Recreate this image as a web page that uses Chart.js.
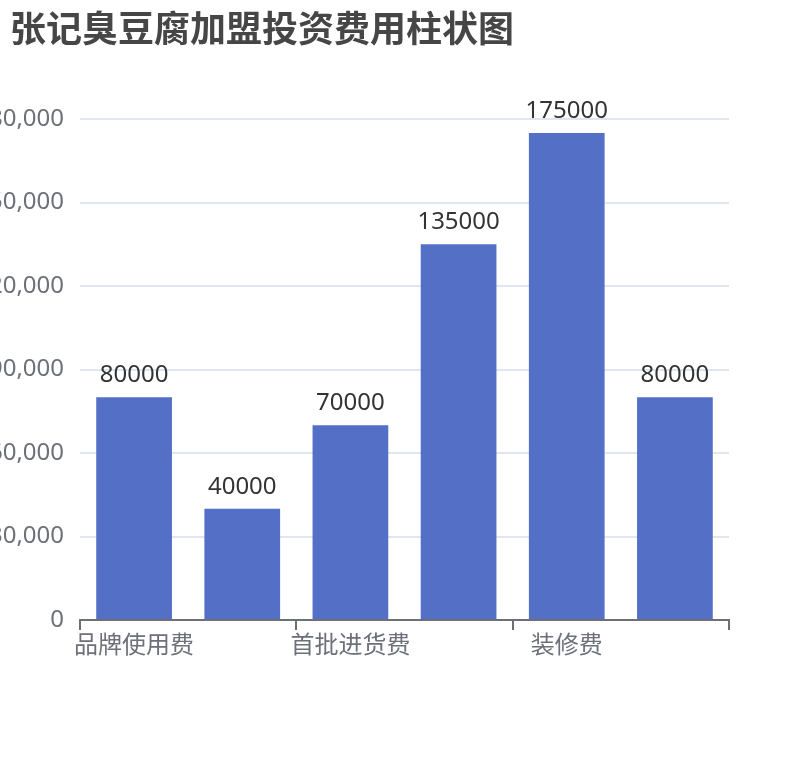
<!DOCTYPE html>
<html>
<head>
<meta charset="utf-8">
<script src="https://cdn.jsdelivr.net/npm/chart.js@4.4.0/dist/chart.umd.min.js"></script>
<style>
html,body{margin:0;padding:0;background:#fff;overflow:hidden;width:810px;height:760px;}
#title{position:absolute;left:10px;top:6px;font-family:"Noto Sans CJK SC","Noto Sans",sans-serif;font-weight:bold;font-size:36px;line-height:40px;color:#464646;white-space:nowrap;}
#wrap{position:absolute;left:-40px;top:0;width:850px;height:760px;}
</style>
</head>
<body>
<div id="wrap"><canvas id="c" width="850" height="760" style="width:850px;height:760px;"></canvas></div>
<div id="title">张记臭豆腐加盟投资费用柱状图</div>
<script>
const categories = ["品牌使用费", "设备费", "首批进货费", "店面租金", "装修费", "流动资金"];
const values = [80000, 40000, 70000, 135000, 175000, 80000];
const yTicks = [0, 30000, 60000, 90000, 120000, 150000, 180000];

const FONT = '"Noto Sans", "Noto Sans CJK SC", sans-serif';

const valueLabels = {
  id: 'valueLabels',
  afterDatasetsDraw(chart) {
    const ctx = chart.ctx;
    const meta = chart.getDatasetMeta(0);
    ctx.save();
    ctx.font = '24px ' + FONT;
    ctx.fillStyle = '#333333';
    ctx.textAlign = 'center';
    ctx.textBaseline = 'alphabetic';
    meta.data.forEach((bar, i) => {
      ctx.fillText(String(values[i]), bar.x, bar.y - 15);
    });
    ctx.restore();
  }
};

new Chart(document.getElementById('c'), {
  type: 'bar',
  data: {
    labels: categories,
    datasets: [{
      data: values,
      backgroundColor: '#5470C6',
      borderWidth: 0,
      barPercentage: 0.7,
      categoryPercentage: 1.0
    }]
  },
  plugins: [valueLabels],
  options: {
    responsive: false,
    animation: false,
    devicePixelRatio: 1,
    layout: { padding: { top: 119, right: 81, left: 0, bottom: 0 } },
    plugins: {
      legend: { display: false },
      tooltip: { enabled: false },
      title: { display: false }
    },
    scales: {
      x: {
        grid: {
          offset: true,
          drawOnChartArea: false,
          drawTicks: true,
          tickLength: 10,
          lineWidth: 2,
          tickWidth: 2,
          tickColor: ctx => (ctx.index === undefined || ctx.index % 2 === 0) ? '#6E7079' : 'rgba(0,0,0,0)'
        },
        border: { display: true, color: '#6E7079', width: 2 },
        ticks: {
          autoSkip: false,
          maxRotation: 0,
          minRotation: 0,
          color: '#6E7079',
          padding: 2,
          font: { size: 24, family: FONT },
          callback: (v, i) => (i % 2 === 0 ? categories[i] : '')
        },
        afterFit: s => { s.height = 140; }
      },
      y: {
        min: 0,
        max: 180000,
        afterBuildTicks: s => { s.ticks = yTicks.map(v => ({ value: v })); },
        grid: { color: '#E0E6F1', lineWidth: 2, drawTicks: false },
        border: { display: false },
        ticks: {
          color: '#6E7079',
          padding: 16,
          font: { size: 24, family: FONT },
          callback: v => Number(v).toLocaleString('en-US')
        },
        afterFit: s => { s.width = 120; }
      }
    }
  }
});
</script>
</body>
</html>
